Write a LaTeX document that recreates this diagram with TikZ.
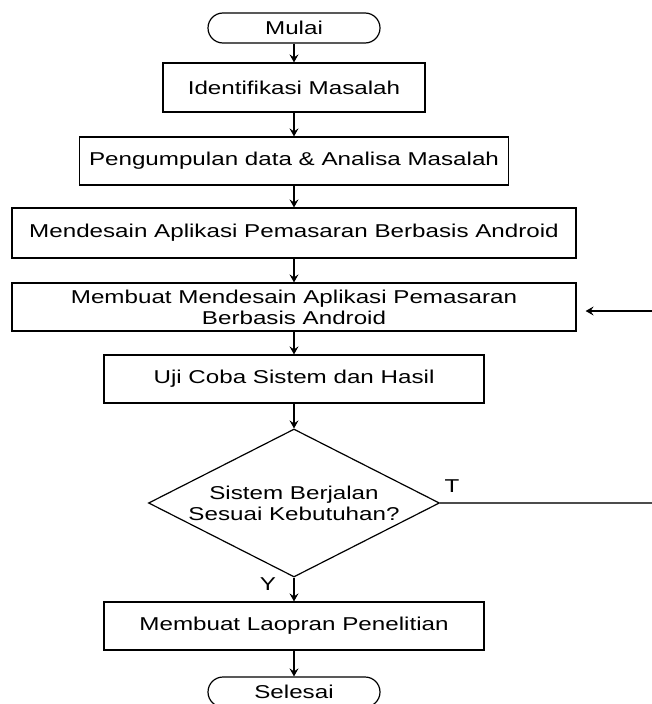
\documentclass[tikz,border=0pt]{standalone}
\usepackage{fontspec}
\setmainfont{Liberation Sans}[FakeStretch=1.3]
\usetikzlibrary{shapes.geometric,arrows.meta}

\begin{document}
\begin{tikzpicture}[x=1pt,y=1pt,font=\fontsize{18.6}{21}\selectfont]

	\tikzstyle{box} = [draw, line width=1.2pt, minimum width=380pt, minimum height=48pt, align=center, inner sep=0pt];
	\tikzstyle{term} = [draw, line width=1.2pt, rounded corners=15pt, minimum width=172pt, minimum height=30pt, inner sep=0pt];
	\tikzstyle{decision} = [draw, diamond, line width=1.2pt, minimum width=291pt, minimum height=148pt, inner sep=0pt, align=center];
	\tikzstyle{line} = [line width=1.2pt, -{Stealth[length=8pt,width=9pt,inset=3pt]}];

	\useasboundingbox (0,0) rectangle (652,-704);

	\node[term] (mulai) at (294,-28) {Mulai};
	\node[box, below of=mulai, node distance=59.5pt, minimum width=262pt, minimum height=49pt] (ident) {Identifikasi Masalah};
	\node[box, below of=ident, node distance=73.5pt, minimum width=429pt] (kumpul) {Pengumpulan data \& Analisa Masalah};
	\node[box, below of=kumpul, node distance=72pt, minimum width=564pt, minimum height=50pt] (desain) {Mendesain Aplikasi Pemasaran Berbasis Android};
	\node[box, below of=desain, node distance=74pt, minimum width=564pt] (buat) {Membuat Mendesain Aplikasi Pemasaran\\Berbasis Android};
	\node[box, below of=buat, node distance=72pt] (uji) {Uji Coba Sistem dan Hasil};
	\node[decision, below of=uji, node distance=124pt] (cek) {\makebox[0pt]{Sistem Berjalan}\\\makebox[0pt]{Sesuai Kebutuhan?}};
	\node[box, below of=cek, node distance=123pt] (lapor) {Membuat Laopran Penelitian};
	\node[term, below of=lapor, node distance=66pt] (selesai) {Selesai};

	\node (tlabel) at ([xshift=12pt,yshift=17pt]cek.east) {T};
	\node (ylabel) at ([xshift=-26pt,yshift=-6pt]cek.south) {Y};

	\coordinate (kanan1) at (652,-503);
	\coordinate (kanan2) at (652,-311);

	\draw[line] (mulai) -- (ident);
	\draw[line] (ident) -- (kumpul);
	\draw[line] (kumpul) -- (desain);
	\draw[line] (desain) -- (buat);
	\draw[line] (buat) -- (uji);
	\draw[line] (uji) -- (cek);
	\draw[line] (cek) -- (lapor);
	\draw[line] (lapor) -- (selesai);
	\draw[line width=1.4pt, black!70] (cek.east) -- (kanan1);
	\draw[line] (kanan2) -- ([xshift=9pt]buat.east |- kanan2);

\end{tikzpicture}
\end{document}
